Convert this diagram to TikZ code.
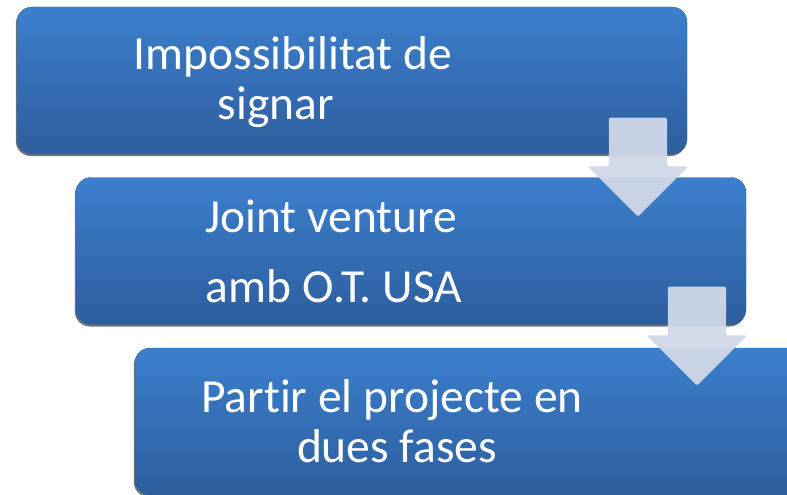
\documentclass[tikz,border=0pt]{standalone}
\usepackage{fontspec}
\setmainfont{Carlito}[Ligatures={NoCommon}]
\usetikzlibrary{shapes.arrows,shadows}
\definecolor{boxtop}{RGB}{60,127,205}
\definecolor{boxbot}{RGB}{45,94,158}
\definecolor{arrowfill}{RGB}{208,216,232}
\tikzset{
	stepbox/.style={rounded corners=15pt, minimum width=670pt, minimum height=147pt,
		top color=boxtop, bottom color=boxbot, draw=boxtop!80!black, line width=0.4pt,
		drop shadow={shadow xshift=-1.2pt, shadow yshift=-2pt, fill=black!55, opacity=1}},
	downarrow/.style={single arrow, shape border rotate=270, fill=arrowfill, fill opacity=0.95,
		minimum height=99pt, single arrow head extend=21pt,
		inner xsep=29pt, inner ysep=5pt, rounded corners=1.5pt},
	steptext/.style={text=white, font=\fontsize{47.5}{52}\selectfont, anchor=base, inner sep=0pt}
}
\begin{document}
\begin{tikzpicture}[x=1pt,y=-1pt]
			\clip (0,0) rectangle (787,495);
			\useasboundingbox (0,0) rectangle (787,495);
			\foreach\i/\x/\y in {1/352/80.5,2/411/251,3/470/421.5}{
				\node[stepbox] (box\i) at (\x,\y){};
			}
			\foreach\i/\x/\y in {1/638/152.5,2/697/321.5}{
				\node[downarrow] (arr\i) at (\x,\y){};
			}
			\node[steptext] (t11) at (293,70){Impossibilitat de};
			\node[steptext] (t12) at (276,119){signar};
			\node[steptext] (t21) at (331,232){Joint venture};
			\node[steptext] (t22) at (334,302){amb O.T. USA};
			\node[steptext] (t31) at (392,412){Partir el projecte en};
			\node[steptext] (t32) at (397,462){dues fases};
		\end{tikzpicture}
\end{document}
